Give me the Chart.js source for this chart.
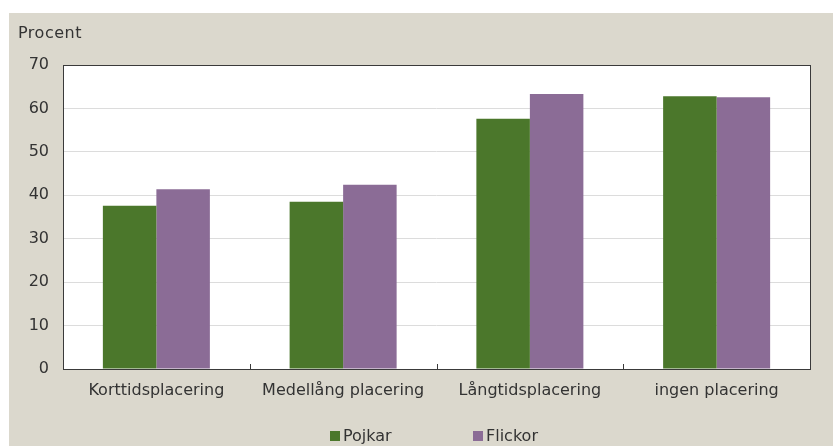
<!DOCTYPE html>
<html>
<head>
<meta charset="utf-8">
<script src="https://cdn.jsdelivr.net/npm/chart.js@4/dist/chart.umd.min.js"></script>
<style>
  html, body { margin:0; padding:0; background:#ffffff; }
  #wrap { position:absolute; left:9px; top:13px; width:824px; height:433px; background:#dbd8cd; }
  #c { position:absolute; left:0; top:0; }
  #ytitle { position:absolute; left:9px; top:10px; font-family:"DejaVu Sans", sans-serif; font-size:16px; letter-spacing:0.5px; color:#333; }
  #legend { position:absolute; top:413px; left:0; width:824px; font-family:"DejaVu Sans", sans-serif; font-size:16px; color:#333; }
  .item { position:absolute; top:0; white-space:nowrap; }
  .sw { display:inline-block; width:10px; height:10px; margin-right:3px; vertical-align:0px; }
</style>
</head>
<body>
<div id="wrap">
  <canvas id="c" width="824" height="433"></canvas>
  <div id="ytitle">Procent</div>
  <div id="legend"></div>
</div>
<script>
const categories = ["Korttidsplacering", "Medellång placering", "Långtidsplacering", "ingen placering"];
const seriesNames = ["Pojkar", "Flickor"];
const pojkar = [37.6, 38.5, 57.6, 62.8];
const flickor = [41.4, 42.4, 63.3, 62.6];
const yTicks = [0, 10, 20, 30, 40, 50, 60, 70];
const colors = ["#4b772b", "#8b6c96"];

const plotFrame = {
  id: 'plotFrame',
  beforeDraw(chart) {
    const ctx = chart.ctx, a = chart.chartArea;
    ctx.save();
    ctx.fillStyle = '#ffffff';
    ctx.fillRect(a.left, a.top, a.right - a.left, a.bottom - a.top);
    ctx.restore();
  },
  afterDatasetsDraw(chart) {
    const ctx = chart.ctx, a = chart.chartArea, xs = chart.scales.x;
    ctx.save();
    ctx.strokeStyle = '#3a3a3a';
    ctx.lineWidth = 1;
    ctx.strokeRect(Math.round(a.left) + 0.5, Math.round(a.top) + 0.5, Math.round(a.right - a.left), Math.round(a.bottom - a.top));
    for (let i = 0; i < categories.length - 1; i++) {
      const x = Math.round((xs.getPixelForValue(i) + xs.getPixelForValue(i + 1)) / 2) + 0.5;
      ctx.beginPath();
      ctx.moveTo(x, a.bottom);
      ctx.lineTo(x, a.bottom - 5);
      ctx.stroke();
    }
    ctx.restore();
  }
};

new Chart(document.getElementById('c'), {
  type: 'bar',
  data: {
    labels: categories,
    datasets: [
      { label: seriesNames[0], data: pojkar, backgroundColor: colors[0] },
      { label: seriesNames[1], data: flickor, backgroundColor: colors[1] }
    ]
  },
  options: {
    responsive: false,
    animation: false,
    layout: { padding: { left: 0, top: 52, right: 23, bottom: 0 } },
    datasets: { bar: { categoryPercentage: 0.573, barPercentage: 1.0 } },
    plugins: { legend: { display: false }, tooltip: { enabled: false } },
    scales: {
      x: {
        grid: { display: false, drawTicks: false },
        border: { display: false },
        ticks: { color: '#333', padding: 12, font: { family: 'DejaVu Sans', size: 16 }, maxRotation: 0 },
        afterFit(s) { s.height = 77; }
      },
      y: {
        min: 0, max: 70,
        afterBuildTicks(s) { s.ticks = yTicks.map(v => ({ value: v })); },
        grid: { color: '#dcdcdc', drawTicks: false },
        border: { display: false },
        ticks: { color: '#333', padding: 14, font: { family: 'DejaVu Sans', size: 16 } },
        afterFit(s) { s.width = 54; }
      }
    }
  },
  plugins: [plotFrame]
});

const leg = document.getElementById('legend');
const lefts = [321, 464];
seriesNames.forEach((n, i) => {
  const d = document.createElement('div');
  d.className = 'item';
  d.style.left = lefts[i] + 'px';
  d.innerHTML = '<span class="sw" style="background:' + colors[i] + '"></span>' + n;
  leg.appendChild(d);
});
</script>
</body>
</html>
